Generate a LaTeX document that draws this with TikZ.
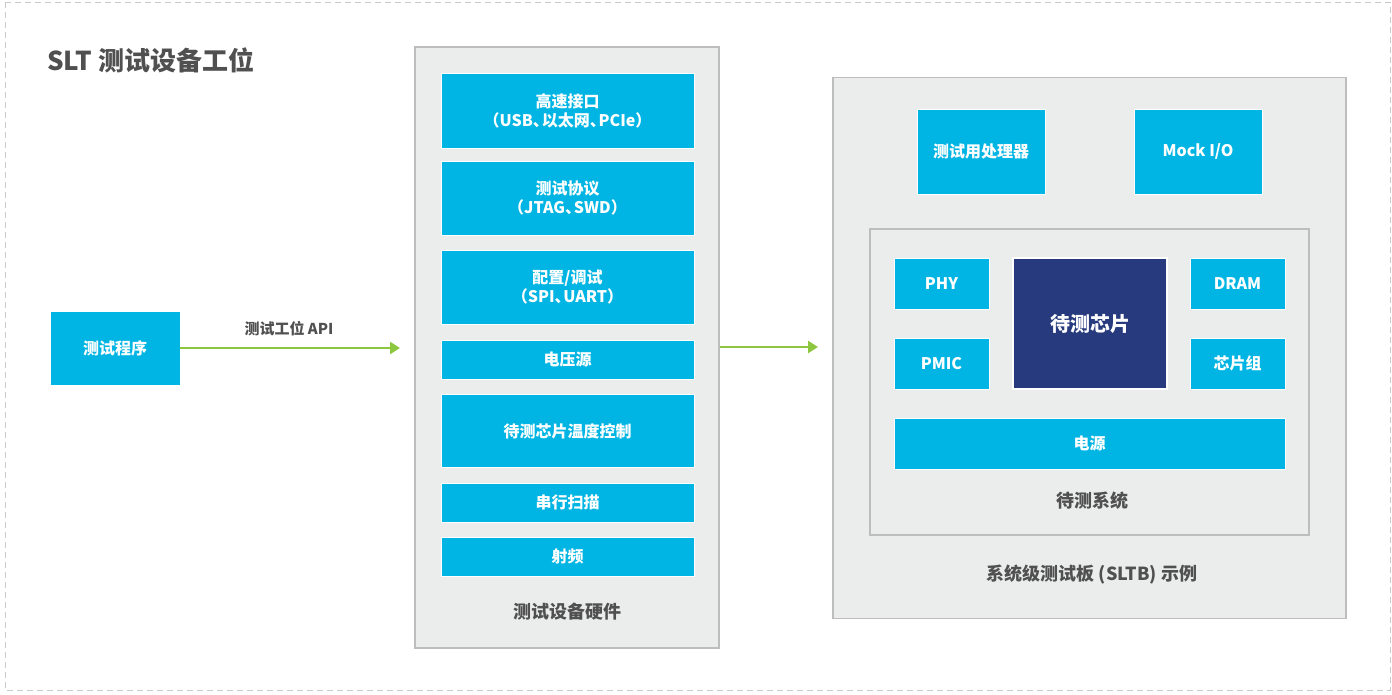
\documentclass[tikz,border=0pt]{standalone}
\usepackage{fontspec}
\setmainfont{Noto Sans CJK SC}
\usetikzlibrary{arrows.meta}
\definecolor{cyanbox}{HTML}{00B5E3}
\definecolor{navybox}{HTML}{263A7D}
\definecolor{panelgray}{HTML}{EBECEC}
\definecolor{panelborder}{HTML}{BDBDBD}
\definecolor{textgray}{HTML}{505050}
\definecolor{arrowgreen}{HTML}{8DC63F}
\newcommand{\dun}{、\kern-0.45em}
\newcommand{\lpar}{\kern-0.35em（}
\newcommand{\rpar}{）\kern-0.35em}
\tikzset{
  cbox/.style={fill=cyanbox, draw=white, line width=0.8pt, text=white, font=\bfseries\fontsize{16}{19}\selectfont, align=center, inner sep=0pt},
  chipbox/.style={fill=navybox, draw=white, line width=2pt, text=white, font=\bfseries\fontsize{20}{24}\selectfont, inner sep=0pt},
  panel/.style={fill=panelgray, draw=panelborder, line width=1.2pt, inner sep=0pt},
  lbl/.style={text=textgray, font=\bfseries\fontsize{18}{22}\selectfont, inner sep=0pt},
  arrowlbl/.style={text=textgray, font=\bfseries\fontsize{15}{18}\selectfont, inner sep=0pt},
  garrow/.style={draw=arrowgreen, line width=2.5pt, -{Triangle[length=10pt,width=12pt]}},
}
\begin{document}
\begin{tikzpicture}[x=1pt,y=-1pt]
\useasboundingbox (0,0) rectangle (1392,694);
% outer dashed frame
\draw[draw=panelborder!80, line width=1pt, dash pattern=on 6pt off 4pt] (5,2) rectangle (1390,690);
% title
\node[text=textgray, font=\bfseries\fontsize{26}{31}\selectfont, anchor=west, inner sep=0pt] (title) at (47,60) {SLT 测试设备工位};

% test program
\node[cbox, minimum width=130pt, minimum height=74pt] (prog) at (115,348) {测试程序};

% middle panel
\node[panel, minimum width=304pt, minimum height=601pt] (hw) at (567,347.5) {};
\node[cbox, minimum width=253pt, minimum height=75pt] (hs) at (567.5,110.5) {高速接口\\\lpar USB\dun 以太网\dun PCIe\rpar};
\node[cbox, minimum width=253pt, minimum height=74pt] (tp) at (567.5,198) {测试协议\\\lpar JTAG\dun SWD\rpar};
\node[cbox, minimum width=253pt, minimum height=74pt] (cfg) at (567.5,287) {配置/调试\\\lpar SPI\dun UART\rpar};
\node[cbox, minimum width=253pt, minimum height=39pt] (vs) at (567.5,359.5) {电压源};
\node[cbox, minimum width=253pt, minimum height=73pt] (tc) at (567.5,431) {待测芯片温度控制};
\node[cbox, minimum width=253pt, minimum height=39pt] (sc) at (567.5,502.5) {串行扫描};
\node[cbox, minimum width=253pt, minimum height=39pt] (rf) at (567.5,556.5) {射频};
\node[lbl] (hwlbl) at (567,612) {测试设备硬件};

% right panel
\node[panel, minimum width=513pt, minimum height=541pt] (sltb) at (1089.5,348) {};
\node[cbox, minimum width=128pt, minimum height=85pt] (proc) at (981,151.5) {测试用处理器};
\node[cbox, minimum width=128pt, minimum height=85pt] (mock) at (1198,151.5) {Mock I/O};
\node[panel, minimum width=439pt, minimum height=306pt] (dut) at (1089.5,382) {};
\node[cbox, minimum width=95pt, minimum height=51pt] (phy) at (941.5,283.5) {PHY};
\node[cbox, minimum width=95pt, minimum height=51pt] (pmic) at (941.5,363.5) {PMIC};
\node[chipbox, minimum width=154pt, minimum height=131pt] (chip) at (1090,323.5) {待测芯片};
\node[cbox, minimum width=95pt, minimum height=51pt] (dram) at (1237.5,283.5) {DRAM};
\node[cbox, minimum width=95pt, minimum height=51pt] (chipset) at (1237.5,363.5) {芯片组};
\node[cbox, minimum width=391pt, minimum height=51pt] (pwr) at (1089.5,443.5) {电源};
\node[lbl] (dutlbl) at (1092,501) {待测系统};
\node[lbl] (sltblbl) at (1092,575) {系统级测试板 (SLTB) 示例};

% arrows
\coordinate (a1end) at (400,348);
\coordinate (a2end) at (818,347);
\draw[garrow] (prog.east) -- (a1end);
\node[arrowlbl] (apilbl) at (289,329) {测试工位 API};
\draw[garrow] (hw.east |- a2end) -- (a2end);
\end{tikzpicture}
\end{document}
